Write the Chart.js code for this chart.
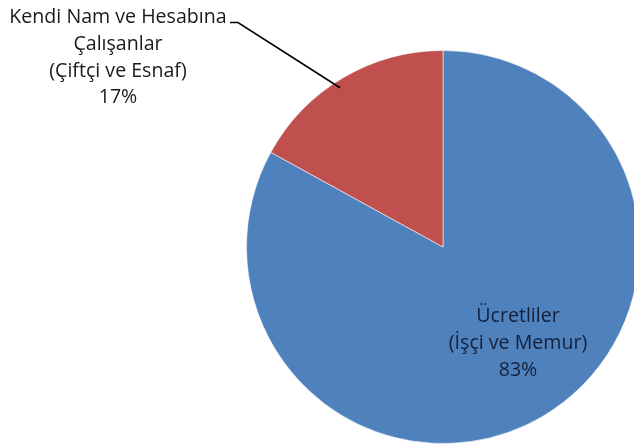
<!DOCTYPE html>
<html>
<head>
<meta charset="utf-8">
<script src="https://cdn.jsdelivr.net/npm/chart.js@4/dist/chart.umd.min.js"></script>
<style>
  html, body { margin:0; padding:0; overflow:hidden; background:#fff; }
  #wrap { width:660px; height:445px; position:relative; }
</style>
</head>
<body>
<div id="wrap"><canvas id="chart"></canvas></div>
<script>
// chart data
const labels = ['Ücretliler (İşçi ve Memur)', 'Kendi Nam ve Hesabına Çalışanlar (Çiftçi ve Esnaf)'];
const labelLines = [
  ['Ücretliler', '(İşçi ve Memur)'],
  ['Kendi Nam ve Hesabına', 'Çalışanlar', '(Çiftçi ve Esnaf)']
];
const shares = [83, 17];
const colors = ['#4F81BD', '#C0504D'];

const FONT = '19.6px "Open Sans", Lato, sans-serif';
const LINE_H = 26.8;

// draws the data labels like the office-style pie
const pieLabels = {
  id: 'pieLabels',
  afterDatasetsDraw(chart){
    const ctx = chart.ctx;
    const meta = chart.getDatasetMeta(0);
    ctx.save();
    ctx.font = FONT;
    ctx.textAlign = 'center';
    ctx.textBaseline = 'alphabetic';

    // inside label for the big slice
    const a0 = meta.data[0];
    const mid0 = (a0.startAngle + a0.endAngle) / 2;
    const r0 = a0.outerRadius * 0.64;
    const cx0 = a0.x + Math.cos(mid0) * r0 + 11;
    const cy0 = a0.y + Math.sin(mid0) * r0 - 6;
    const lines0 = labelLines[0].concat([shares[0] + '%']);
    ctx.fillStyle = '#14213d';
    lines0.forEach((t, i) => {
      ctx.fillText(t, cx0, cy0 + (i - 1) * LINE_H);
    });

    // outside label with leader line for the small slice
    const a1 = meta.data[1];
    const mid1 = (a1.startAngle + a1.endAngle) / 2 - 0.04;
    const ex = a1.x + Math.cos(mid1) * a1.outerRadius * 0.965;
    const ey = a1.y + Math.sin(mid1) * a1.outerRadius * 0.965;
    const lines1 = labelLines[1].concat([shares[1] + '%']);
    const tx = 118, ty = 23;
    ctx.fillStyle = '#1a1a1a';
    lines1.forEach((t, i) => ctx.fillText(t, tx, ty + i * LINE_H));

    ctx.strokeStyle = '#000';
    ctx.lineWidth = 1.6;
    ctx.beginPath();
    ctx.moveTo(230, 22.5);
    ctx.lineTo(238, 22.5);
    ctx.lineTo(ex, ey);
    ctx.stroke();
    ctx.restore();
  }
};

new Chart(document.getElementById('chart'), {
  type: 'pie',
  data: {
    labels,
    datasets: [{
      data: shares,
      backgroundColor: colors,
      borderColor: 'rgba(255,255,255,0.55)',
      borderWidth: 1
    }]
  },
  options: {
    responsive: true,
    maintainAspectRatio: false,
    animation: false,
    layout: { padding: { left: 246, right: 20, top: 50, bottom: 1 } },
    plugins: {
      legend: { display: false },
      tooltip: { enabled: false }
    }
  },
  plugins: [pieLabels]
});
</script>
</body>
</html>
